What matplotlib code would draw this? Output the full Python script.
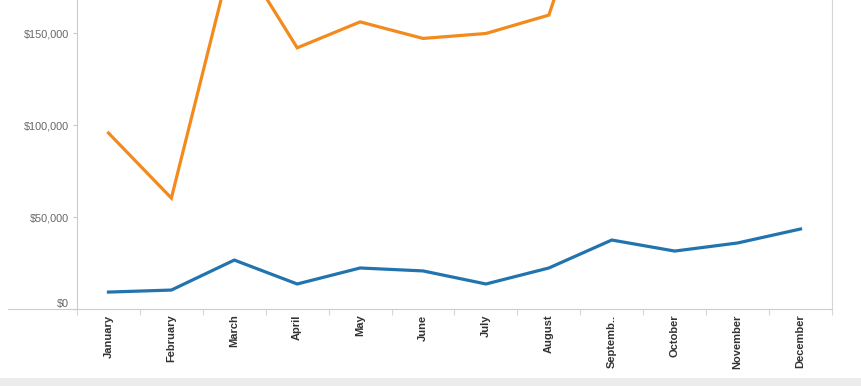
import matplotlib.pyplot as plt
from matplotlib.patches import Rectangle
from matplotlib.ticker import FuncFormatter, FixedLocator

months = ["January", "February", "March", "April", "May", "June", "July",
          "August", "Septemb..", "October", "November", "December"]
# lower series (blue)
series_blue = [9200, 10300, 26600, 13600, 22300, 20700, 13600,
               22300, 37500, 31500, 35900, 43500]
# upper series (orange) - Mar and Sep-Dec run off the top of the view
series_orange = [95700, 60300, 197000, 142000, 156100, 147100, 149800,
                 159800, 262000, 235000, 250000, 285000]
y_ticks = [0, 50000, 100000, 150000]

fig = plt.figure(figsize=(8.61, 3.86), dpi=100)
ax = fig.add_axes([77/861, 77/386, (832-77)/861, 309/386])

x = list(range(len(months)))
ax.plot(x, series_orange, color="#F28A1E", lw=2.3, solid_joinstyle="miter")
ax.plot(x, series_blue, color="#2274AE", lw=2.3, solid_joinstyle="miter")

ax.set_xlim(-0.5, len(months) - 0.5)
ax.set_ylim(0, 168000)

ax.set_yticks(y_ticks)
ax.yaxis.set_major_formatter(FuncFormatter(lambda v, p: f"${v:,.0f}"))
ax.tick_params(axis="y", length=3, width=0.8, color="#c8c8c8", pad=3,
               labelsize=7.8, labelcolor="#666666")
for lab in ax.get_yticklabels():
    lab.set_fontfamily("Liberation Sans")
# $0 label sits a bit higher than its tick
ax.get_yticklabels()[0].set_verticalalignment("bottom")

ax.set_xticks(x)
ax.set_xticklabels(months, rotation=90, fontsize=8, fontweight="bold",
                   color="#333333", family="Liberation Sans")
ax.tick_params(axis="x", which="major", length=0, pad=4)
ax.xaxis.set_minor_locator(FixedLocator([i - 0.5 for i in range(len(months) + 1)]))
ax.tick_params(axis="x", which="minor", length=4, width=0.8, color="#d8d8d8")

for s in ["top"]:
    ax.spines[s].set_visible(False)
for s in ["left", "right", "bottom"]:
    ax.spines[s].set_color("#cccccc")
    ax.spines[s].set_linewidth(0.8)
ax.spines["right"].set_color("#d6d6d6")
# base line runs left past the value axis
ax.plot([-0.092, 0], [0, 0], transform=ax.transAxes, clip_on=False,
        color="#cccccc", lw=0.8)

fig.patches.append(Rectangle((0, 0), 1, 8/386, transform=fig.transFigure,
                             facecolor="#ececec", edgecolor="none"))

fig.savefig("out.png", dpi=100)
